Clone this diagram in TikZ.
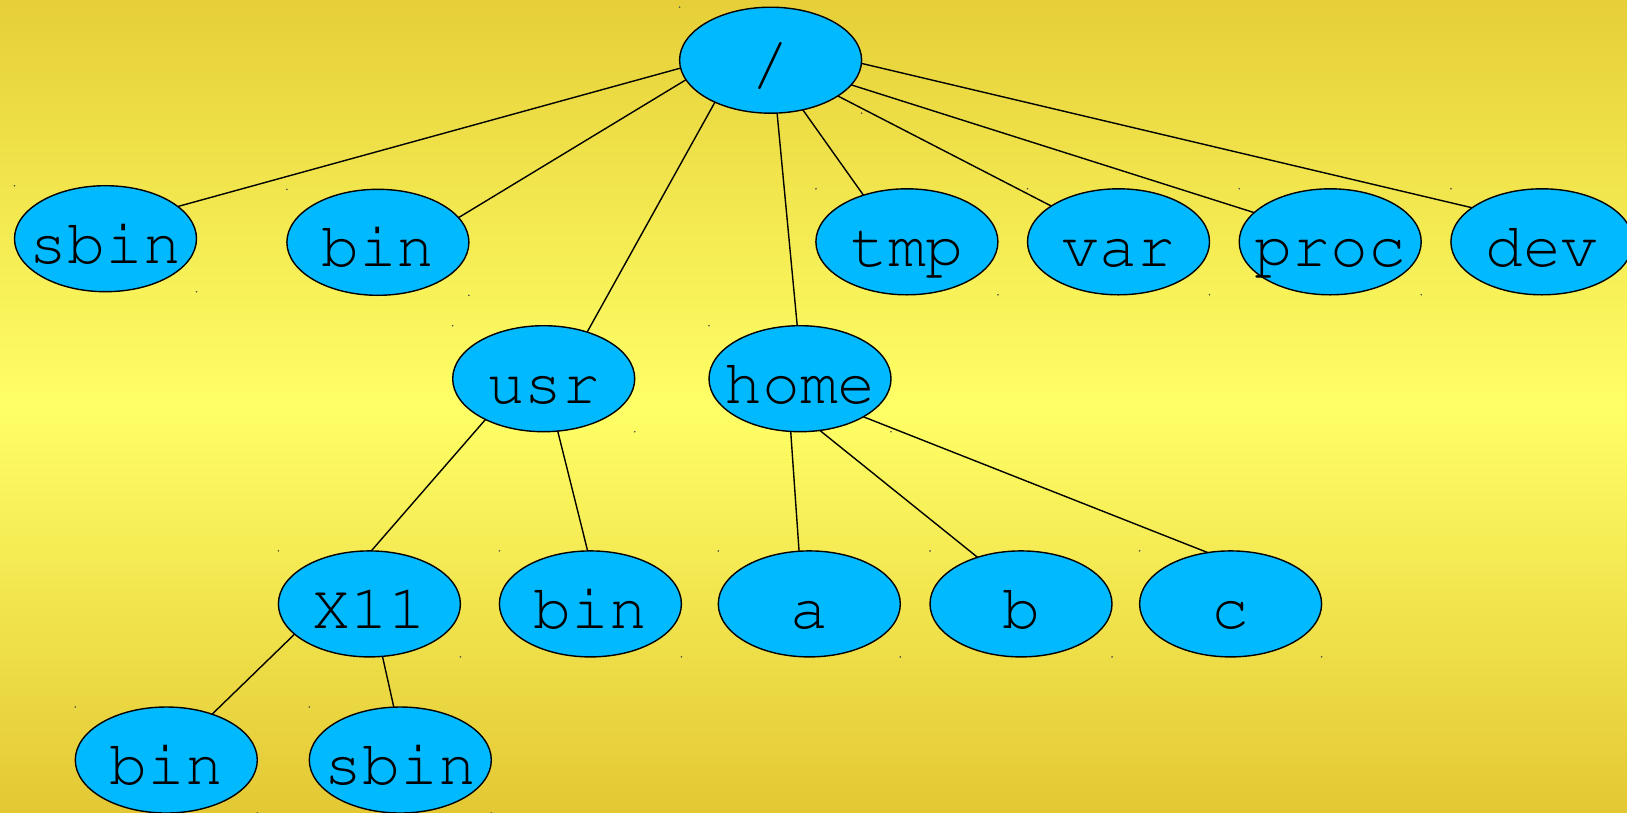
\documentclass[tikz,border=0pt]{standalone}
\usepackage[T1]{fontenc}
\usetikzlibrary{shapes.geometric}
\definecolor{bgtop}{RGB}{230,207,56}
\definecolor{bgmid}{RGB}{255,255,102}
\definecolor{bgbot}{RGB}{227,200,52}
\definecolor{nodefill}{RGB}{0,185,255}
\newcommand{\lbl}[1]{\makebox[0pt]{#1}}
\begin{document}
\begin{tikzpicture}[x=1pt,y=-1pt,
  dirnode/.style={ellipse,draw=black,line width=1.4pt,fill=nodefill,
    minimum width=182pt,minimum height=106pt,inner sep=0pt,outer sep=0pt,
    text height=49pt,text depth=0pt,
    font=\fontfamily{pcr}\fontsize{63}{63}\selectfont},
  link/.style={draw=black,line width=1.4pt},
  markdot/.style={fill=black!70}]
\useasboundingbox (0,0) rectangle (1627,812);
\shade[top color=bgtop,bottom color=bgbot,middle color=bgmid] (0,0) rectangle (1627,812);

\node[dirnode] (root) at (770.6,60.2) {\lbl{/}};
\node[dirnode] (sbin) at (105.5,238.7) {\lbl{sbin}};
\node[dirnode] (bin) at (377.9,242.3) {\lbl{bin}};
\node[dirnode] (tmp) at (906.9,241.8) {\lbl{tmp}};
\node[dirnode] (var) at (1118.5,241.8) {\lbl{var}};
\node[dirnode] (proc) at (1330.2,241.8) {\lbl{proc}};
\node[dirnode] (dev) at (1541.9,241.8) {\lbl{dev}};
\node[dirnode] (usr) at (543.7,378.7) {\lbl{usr}};
\node[dirnode] (home) at (800,378.7) {\lbl{home}};
\node[dirnode] (xeleven) at (369.4,603.9) {\lbl{X11}};
\node[dirnode] (usrbin) at (590.4,603.9) {\lbl{bin}};
\node[dirnode] (a) at (809.3,603.9) {\lbl{a}};
\node[dirnode] (b) at (1021,603.9) {\lbl{b}};
\node[dirnode] (c) at (1230.6,603.9) {\lbl{c}};
\node[dirnode] (xbin) at (166.3,760) {\lbl{bin}};
\node[dirnode] (xsbin) at (400.3,760) {\lbl{sbin}};

\foreach \n in {root,sbin,bin,tmp,var,proc,dev,usr,home,xeleven,usrbin,a,b,c,xbin,xsbin}{
  \fill[markdot] (\n.west|-\n.north) circle (0.9pt);
  \fill[markdot] (\n.east|-\n.south) circle (0.9pt);
}

\draw[link] (root.185.2) -- (sbin.24.9);
\draw[link] (root.193.6) -- (bin.17.6);
\draw[link] (root.217.9) -- (usr.47);
\draw[link] (root.277) -- (home.93.3);
\draw[link] (root.303.5) -- (tmp.133.7);
\draw[link] (root.332.9) -- (var.152.7);
\draw[link] (root.343.7) -- (proc.159);
\draw[link] (root.358) -- (dev.154.8);
\draw[link] (usr.215.1) -- (xeleven.88.9);
\draw[link] (usr.285.6) -- (usrbin.93.4);
\draw[link] (home.260) -- (a.101);
\draw[link] (home.291.2) -- (b.133.1);
\draw[link] (home.329.2) -- (c.114.3);
\draw[link] (xeleven.202.3) -- (xbin.45.4);
\draw[link] (xeleven.284.3) -- (xsbin.97.6);
\end{tikzpicture}
\end{document}
